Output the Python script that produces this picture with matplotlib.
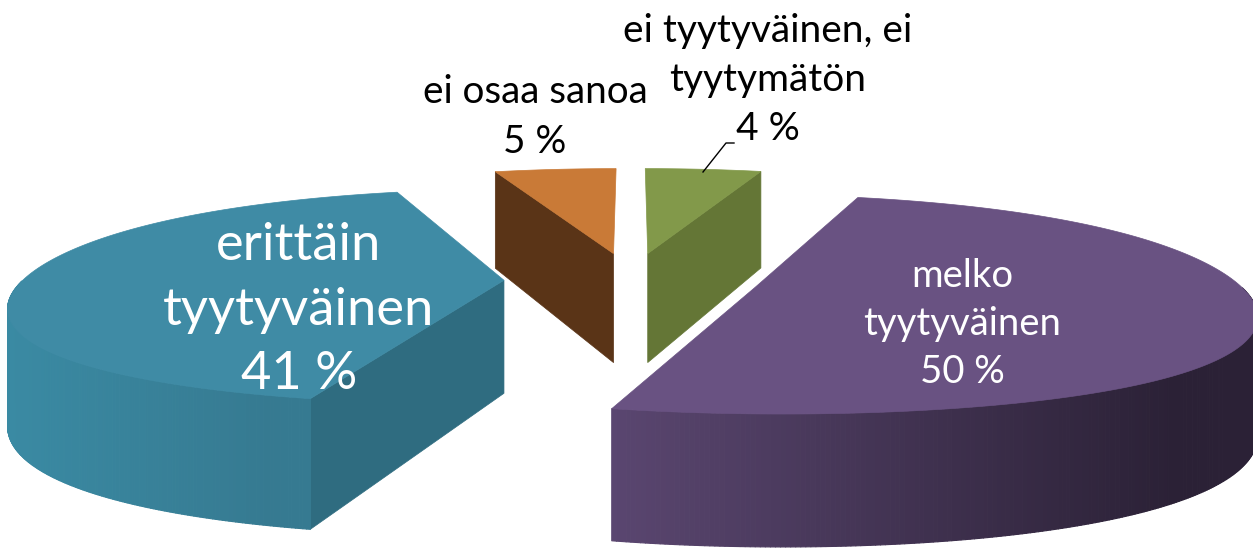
import numpy as np
import matplotlib
matplotlib.use('Agg')
import matplotlib.pyplot as plt
from matplotlib.collections import PolyCollection
from matplotlib.colors import to_rgb

# Values, clockwise from twelve o'clock
# (slice sizes estimated from the drawn angles, labels show them rounded)
categories = ['ei tyytyväinen, ei\ntyytymätön', 'melko\ntyytyväinen', 'erittäin\ntyytyväinen', 'ei osaa sanoa']
values = [4.4, 49.9, 41.1, 4.6]

# Styles per slice, same order as the values
top_colors = ['#82994a', '#695282', '#3f8ba5', '#c97a37']
face_colors = ['#647636', '#2b2136', '#2f6c80', '#5a3417']
wall_left = ['#647636', '#5a4670', '#3a8aa3', '#5a3417']
wall_right = ['#647636', '#2b2136', '#367a91', '#5a3417']
visible_edge = ['end', None, 'start', 'start']
draw_order = [3, 0, 2, 1]
label_pos = [(768, 80), (962, 324), (299, 310), (535, 117)]
label_size = [28, 27.5, 37.8, 27.8]
label_color = ['black', 'white', 'white', 'black']
label_gap = [1.44, 1.41, 1.47, 1.45]

# Camera of the fake 3D pie, in pixels
cx, cy = 631, 280
rx, ry = 481, 105
explode = 0.264
persp_x = 0.18
persp_y = 0.15
persp_h = 0.14
depth = 113
warp = 0.08


def project(theta, r, mid, z=0):
    # theta in degrees clockwise from the top, mid is the slice's middle angle
    t = np.radians(theta)
    lx = r * np.sin(t)
    ly = r * np.cos(t)
    lx = lx * (1 + warp * ly ** 2)
    px = lx + explode * np.sin(np.radians(mid))
    py = ly + explode * np.cos(np.radians(mid))
    x = cx + rx * px / (1 + persp_x * py)
    y = cy - ry * py / (1 + persp_y * py) + z * depth / (1 + persp_h * py)
    return x, y


fig = plt.figure(figsize=(12.53, 5.49), dpi=100)
ax = fig.add_axes([0, 0, 1, 1])
ax.set_xlim(0, 1253)
ax.set_ylim(549, 0)
ax.axis('off')

edges = np.cumsum([0] + values) * 3.6

for i in draw_order:
    a0, a1 = edges[i], edges[i + 1]
    mid = (a0 + a1) / 2
    angles = np.linspace(a0, a1, 400)
    order = draw_order.index(i) * 3

    # flat side of the slice
    if visible_edge[i] is not None:
        ang = a0 if visible_edge[i] == 'start' else a1
        p0 = project(ang, 0, mid)
        p1 = project(ang, 1, mid)
        p2 = project(ang, 1, mid, 1)
        p3 = project(ang, 0, mid, 1)
        ax.fill([p0[0], p1[0], p2[0], p3[0]], [p0[1], p1[1], p2[1], p3[1]],
                color=face_colors[i], lw=0.5, zorder=order)

    # curved wall as thin strips, only the part turned to the viewer
    front = angles[(angles >= 90) & (angles <= 270)]
    if len(front) > 1:
        xt, yt = project(front, 1, mid)
        xb, yb = project(front, 1, mid, 1)
        quads = []
        cols = []
        c0 = np.array(to_rgb(wall_left[i]))
        c1 = np.array(to_rgb(wall_right[i]))
        lo, hi = xt.min(), xt.max()
        for j in range(len(front) - 1):
            quads.append([(xt[j], yt[j]), (xt[j + 1], yt[j + 1]), (xb[j + 1], yb[j + 1]), (xb[j], yb[j])])
            f = min(1, (xt[j] - lo) / (hi - lo) * 1.15)
            cols.append(c0 + (c1 - c0) * f)
        ax.add_collection(PolyCollection(quads, facecolors=cols, edgecolors=cols, linewidths=0.8,
                                         zorder=order + 1))

    # top of the slice
    xa, ya = project(angles, 1, mid)
    xc, yc = project(0, 0, mid)
    ax.fill(np.r_[xc, xa], np.r_[yc, ya], color=top_colors[i], lw=0.5, zorder=order + 2)

# labels
for i in range(len(values)):
    text = categories[i] + '\n' + str(round(values[i])) + ' %'
    ax.text(label_pos[i][0], label_pos[i][1], text, color=label_color[i], fontsize=label_size[i],
            family='Lato', ha='center', va='center', linespacing=label_gap[i], zorder=20)

# leader line of the 4 % label
ax.plot([734, 726, 703], [143, 143, 172], color='black', lw=1, zorder=20)

fig.savefig('out.png', dpi=100)
